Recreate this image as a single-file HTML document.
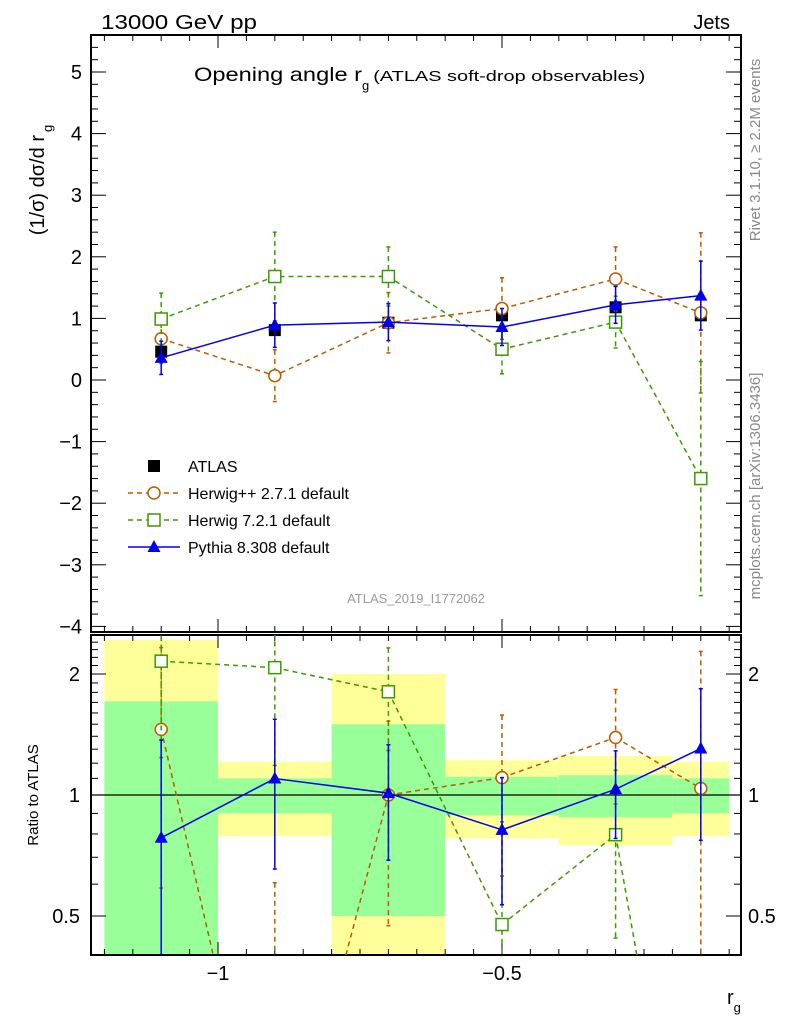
<!DOCTYPE html>
<html><head><meta charset="utf-8"><style>
html,body{margin:0;padding:0;background:#fff;overflow:hidden;width:786px;height:1024px;}
svg{display:block;font-family:"Liberation Sans",sans-serif;overflow:hidden;}
</style></head><body>
<svg id="chart" width="786" height="1024" viewBox="0 0 786 1024" xmlns="http://www.w3.org/2000/svg">
<g id="bands"></g>
<g id="axes"></g>
<g id="series"></g>
<text x="101" y="29" font-size="20" textLength="156" lengthAdjust="spacingAndGlyphs">13000 GeV pp</text>
<text x="730" y="29" font-size="20" text-anchor="end">Jets</text>
<text x="194" y="81" font-size="19"><tspan textLength="168" lengthAdjust="spacingAndGlyphs">Opening angle r</tspan><tspan font-size="13" dy="9">g</tspan><tspan font-size="15" dy="-9" dx="4" textLength="272" lengthAdjust="spacingAndGlyphs">(ATLAS soft-drop observables)</tspan></text>
<text transform="translate(44,180) rotate(-90)" font-size="20" text-anchor="middle">(1/σ) dσ/d r<tspan font-size="13" dy="8" dx="3">g</tspan></text>
<text transform="translate(38,795) rotate(-90)" font-size="15" text-anchor="middle">Ratio to ATLAS</text>
<text x="727" y="1004" font-size="20">r<tspan font-size="13" dy="8">g</tspan></text>
<text transform="translate(760,150) rotate(-90)" font-size="15" fill="#888" text-anchor="middle">Rivet 3.1.10, ≥ 2.2M events</text>
<text transform="translate(760,486) rotate(-90)" font-size="15" fill="#888" text-anchor="middle">mcplots.cern.ch [arXiv:1306.3436]</text>
<text x="416" y="603" font-size="13" fill="#999" text-anchor="middle">ATLAS_2019_I1772062</text>
<g id="legend"></g>
</svg>
<script>
const xCenters=[-1.1,-0.9,-0.7,-0.5,-0.3,-0.15];
const binLo=[-1.2,-1.0,-0.8,-0.6,-0.4,-0.2];
const binHi=[-1.0,-0.8,-0.6,-0.4,-0.2,-0.1];
const atlasVals=[0.46,0.81,0.93,1.05,1.18,1.05];
const atlasStatRel=[0.71,0.10,0.50,0.11,0.12,0.10];
const atlasTotRel=[1.43,0.21,1.00,0.22,0.25,0.21];
const herwigppVals=[0.67,0.07,0.93,1.16,1.64,1.09];
const herwigppErr=[0.40,0.42,0.49,0.50,0.52,1.30];
const herwig7Vals=[0.99,1.68,1.68,0.50,0.94,-1.60];
const herwig7Err=[0.42,0.72,0.48,0.40,0.42,1.90];
const pythiaVals=[0.36,0.89,0.94,0.86,1.22,1.37];
const pythiaErr=[0.27,0.36,0.30,0.30,0.30,0.56];
const mainYTicks=[-4,-3,-2,-1,0,1,2,3,4,5];
const ratioYTicks=[0.5,1,2];
const xTickLabels=[-1,-0.5];

const NS="http://www.w3.org/2000/svg";
const L=91,R=741,MT=35,MB=632,RT=635,RB=955;
const X=v=>502+(v+0.5)*568;
const Y=v=>380-v*61.6;
const YR=v=>795-Math.log2(v)*121;
const OFF=RB+30;
function mk(p,tag,at){const e=document.createElementNS(NS,tag);for(const k in at)e.setAttribute(k,at[k]);p.appendChild(e);return e;}
const bands=document.getElementById('bands'),axes=document.getElementById('axes'),ser=document.getElementById('series'),leg=document.getElementById('legend');
const cl=t=>Math.max(RT,Math.min(RB,t));
for(let i=0;i<xCenters.length;i++){
  const x1=X(binLo[i]),x2=X(binHi[i]);
  for(const [rel,col,nm] of [[atlasTotRel,'#ffff99','total'],[atlasStatRel,'#99ff99','stat']]){
    const top=cl(YR(1+rel[i])),lo=1-rel[i],bot=lo>0?cl(YR(lo)):RB;
    const r=mk(bands,'rect',{x:x1,y:top,width:x2-x1,height:bot-top,fill:col});
    
    
  }
}
for(const [t,b] of [[MT,MB],[RT,RB]]){
  const f=mk(axes,'rect',{x:L,y:t,width:R-L,height:b-t,fill:'none',stroke:'#000','stroke-width':2});
  
  
}
mk(axes,'line',{x1:L,x2:R,y1:YR(1),y2:YR(1),stroke:'#000','stroke-width':1.3});
for(let k=-24;k<=-1;k++){const v=k*0.05;const x=X(v);if(x<L||x>R)continue;const maj=Math.abs(k%10)===0;const len=maj?13:6;
  for(const [t,b] of [[MT,MB],[RT,RB]]){mk(axes,'line',{x1:x,x2:x,y1:t,y2:t+len,stroke:'#000'});mk(axes,'line',{x1:x,x2:x,y1:b,y2:b-len,stroke:'#000'});}}
xTickLabels.forEach(v=>{const t=mk(axes,'text',{x:X(v),y:980,'font-size':20,'text-anchor':'middle'});t.textContent=(v<0?'\u2212':'')+Math.abs(v);
  
  });
for(let k=-20;k<=28;k++){const v=k*0.2;const y=Y(v);if(y<MT||y>MB)continue;const maj=k%5===0;const len=maj?15:7;
  mk(axes,'line',{x1:L,x2:L+len,y1:y,y2:y,stroke:'#000'});mk(axes,'line',{x1:R,x2:R-len,y1:y,y2:y,stroke:'#000'});}
mainYTicks.forEach(v=>{const t=mk(axes,'text',{x:82,y:Y(v)+7,'font-size':20,'text-anchor':'end'});t.textContent=(v<0?'\u2212':'')+Math.abs(v);
  
  });
for(let v=0.4;v<=2.6;v+=0.1){const y=YR(v);if(y<RT||y>RB)continue;const r=Math.round(v*10)/10;const maj=ratioYTicks.includes(r);const len=maj?15:7;
  mk(axes,'line',{x1:L,x2:L+len,y1:y,y2:y,stroke:'#000'});mk(axes,'line',{x1:R,x2:R-len,y1:y,y2:y,stroke:'#000'});}
ratioYTicks.forEach(v=>{for(const [x,a] of [[80,'end'],[748,'start']]){const t=mk(axes,'text',{x:x,y:YR(v)+7,'font-size':20,'text-anchor':a});t.textContent=String(v);
  
  }});
function marker(g,type,x,y,col){
  if(type==='sq') return mk(g,'rect',{x:x-6,y:y-6,width:12,height:12,fill:'#000'});
  if(type==='osq') return mk(g,'rect',{x:x-6,y:y-6,width:12,height:12,fill:'#fff',stroke:col,'stroke-width':1.5});
  if(type==='circ') return mk(g,'circle',{cx:x,cy:y,r:6,fill:'#fff',stroke:col,'stroke-width':1.5});
  return mk(g,'path',{d:`M${x} ${y-7}L${x+6.5} ${y+5}L${x-6.5} ${y+5}Z`,fill:col});
}
const clipM=mk(ser,'clipPath',{id:'cm'});mk(clipM,'rect',{x:L,y:MT,width:R-L,height:MB-MT});
const clipR=mk(ser,'clipPath',{id:'cr'});mk(clipR,'rect',{x:L,y:RT,width:R-L,height:RB-RT});
const gM=mk(ser,'g',{'clip-path':'url(#cm)'}),gR=mk(ser,'g',{'clip-path':'url(#cr)'});
const mcs=[
 {name:'herwigpp',vals:herwigppVals,err:herwigppErr,col:'#b85c00',dash:'5,4',m:'circ',w:1.5},
 {name:'herwig7',vals:herwig7Vals,err:herwig7Err,col:'#3a9a00',dash:'5,4',m:'osq',w:1.5},
 {name:'pythia',vals:pythiaVals,err:pythiaErr,col:'#0000ee',dash:'',m:'tri',w:1.5}];
atlasVals.forEach((v,i)=>{const m=marker(gM,'sq',X(xCenters[i]),Y(v));
  
  });
const ry=v=>v>0?Math.min(OFF,YR(v)):OFF;
mcs.forEach(s=>{
  for(const [g,fy,vals,errs] of [[gM,Y,s.vals,s.err],[gR,ry,s.vals.map((v,i)=>v/atlasVals[i]),s.err.map((e,i)=>e/atlasVals[i])]]){
    let d='';
    if(fy===ry){
      const raw=vals.map((v,i)=>[X(xCenters[i]),v>0?YR(v):YR(0.05)]);
      for(let i=0;i<raw.length-1;i++){
        let [x1,y1]=raw[i],[x2,y2]=raw[i+1];
        if(y1>RB&&y2>RB)continue;
        if(y1>RB){x1=x1+(x2-x1)*(RB-y1)/(y2-y1);y1=RB;}
        if(y2>RB){x2=x1+(x2-x1)*(RB-y1)/(y2-y1);y2=RB;}
        d+=`M${x1} ${y1}L${x2} ${y2}`;
      }
    } else d='M'+vals.map((v,i)=>X(xCenters[i])+' '+fy(v)).join('L');
    const pl=mk(g,'path',{d:d,fill:'none',stroke:s.col,'stroke-width':s.w,'stroke-dasharray':s.dash});
    
    
    vals.forEach((v,i)=>{const x=X(xCenters[i]);const yh=fy(v+errs[i]),yl=fy(v-errs[i]);
      mk(g,'line',{x1:x,x2:x,y1:yh,y2:yl,stroke:s.col,'stroke-width':1.5,'stroke-dasharray':s.dash});
      mk(g,'line',{x1:x-2,x2:x+2,y1:yh,y2:yh,stroke:s.col,'stroke-width':1.5});
      if(yl<RB) mk(g,'line',{x1:x-2,x2:x+2,y1:yl,y2:yl,stroke:s.col,'stroke-width':1.5});
      const yv=fy(v);
      if(yv<RB){const m=marker(g,s.m,x,yv,s.col);
        
        }
    });
  }
});
const entries=[['ATLAS','sq','#000',''],['Herwig++ 2.7.1 default','circ','#b85c00','5,4'],['Herwig 7.2.1 default','osq','#3a9a00','5,4'],['Pythia 8.308 default','tri','#0000ee','']];
entries.forEach((e,i)=>{const y=466+i*27;const g=mk(leg,'g',{});
  
  
  if(i>0)mk(g,'line',{x1:128,x2:180,y1:y,y2:y,stroke:e[2],'stroke-width':1.5,'stroke-dasharray':e[3]});
  marker(g,e[1],154,y,e[2]);
  const t=mk(g,'text',{x:188,y:y+6,'font-size':16});t.textContent=e[0];});
</script>
</body></html>
